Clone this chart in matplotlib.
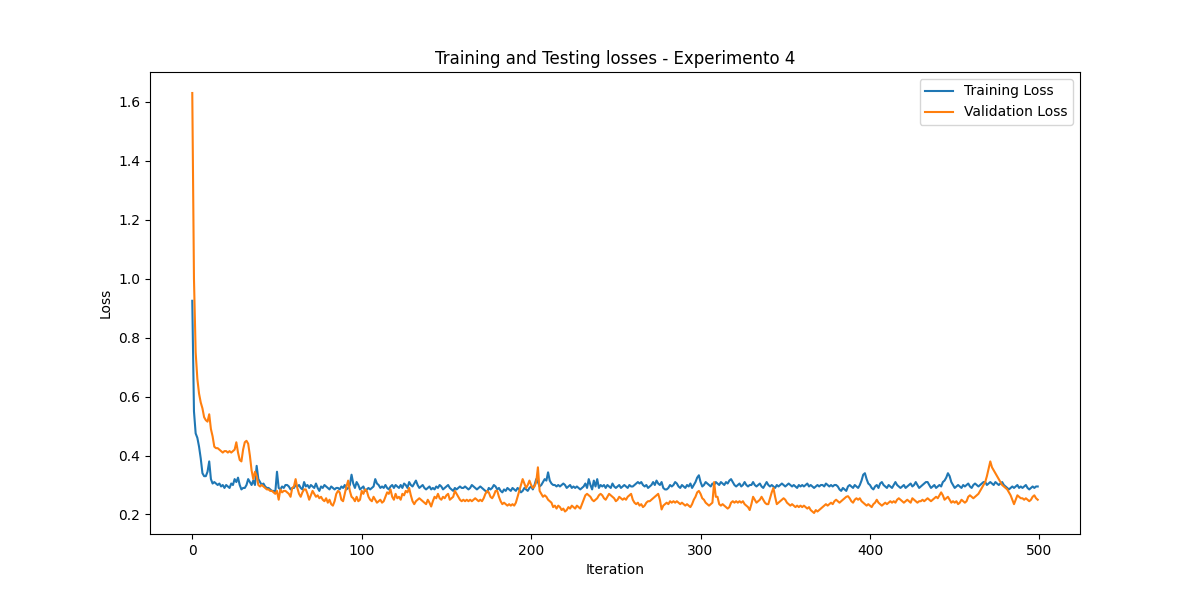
import matplotlib
matplotlib.use('Agg')
import matplotlib.pyplot as plt

# Valori letti a occhio dal grafico di riferimento (500 iterazioni)
training_loss = [
    0.925, 0.55, 0.475, 0.46, 0.43, 0.39, 0.34, 0.33, 0.33, 0.345,
    0.38, 0.32, 0.305, 0.31, 0.305, 0.30, 0.305, 0.295, 0.30, 0.29,
    0.30, 0.295, 0.29, 0.305, 0.30, 0.32, 0.31, 0.325, 0.30, 0.285,
    0.29, 0.29, 0.30, 0.32, 0.31, 0.30, 0.315, 0.30, 0.365, 0.32,
    0.31, 0.30, 0.305, 0.295, 0.29, 0.29, 0.285, 0.28, 0.28, 0.275,
    0.345, 0.29, 0.285, 0.295, 0.29, 0.30, 0.30, 0.295, 0.285, 0.29,
    0.29, 0.30, 0.295, 0.30, 0.29, 0.285, 0.31, 0.295, 0.30, 0.29,
    0.30, 0.295, 0.29, 0.305, 0.29, 0.28, 0.295, 0.29, 0.30, 0.295,
    0.29, 0.285, 0.295, 0.29, 0.285, 0.29, 0.29, 0.285, 0.295, 0.29,
    0.30, 0.285, 0.29, 0.30, 0.335, 0.305, 0.29, 0.31, 0.30, 0.285,
    0.29, 0.295, 0.28, 0.285, 0.29, 0.285, 0.29, 0.295, 0.32, 0.305,
    0.30, 0.29, 0.295, 0.29, 0.30, 0.29, 0.285, 0.295, 0.30, 0.29,
    0.30, 0.295, 0.29, 0.30, 0.29, 0.305, 0.30, 0.29, 0.31, 0.30,
    0.295, 0.305, 0.315, 0.30, 0.29, 0.295, 0.30, 0.29, 0.285, 0.29,
    0.295, 0.285, 0.29, 0.285, 0.295, 0.29, 0.30, 0.295, 0.285, 0.29,
    0.295, 0.30, 0.29, 0.285, 0.28, 0.29, 0.285, 0.29, 0.295, 0.29,
    0.29, 0.295, 0.29, 0.285, 0.29, 0.30, 0.295, 0.29, 0.285, 0.29,
    0.295, 0.29, 0.285, 0.28, 0.275, 0.29, 0.285, 0.29, 0.30, 0.295,
    0.285, 0.29, 0.28, 0.275, 0.285, 0.28, 0.29, 0.285, 0.28, 0.29,
    0.285, 0.28, 0.29, 0.285, 0.275, 0.28, 0.29, 0.285, 0.28, 0.29,
    0.295, 0.285, 0.30, 0.32, 0.31, 0.295, 0.30, 0.31, 0.32, 0.315,
    0.343, 0.315, 0.305, 0.30, 0.30, 0.295, 0.30, 0.295, 0.30, 0.305,
    0.30, 0.29, 0.295, 0.30, 0.29, 0.295, 0.29, 0.295, 0.29, 0.285,
    0.29, 0.295, 0.305, 0.29, 0.32, 0.30, 0.285, 0.315, 0.295, 0.32,
    0.29, 0.30, 0.295, 0.30, 0.29, 0.30, 0.295, 0.29, 0.305, 0.295,
    0.29, 0.295, 0.30, 0.29, 0.295, 0.30, 0.295, 0.29, 0.30, 0.295,
    0.295, 0.30, 0.305, 0.31, 0.305, 0.31, 0.30, 0.295, 0.30, 0.29,
    0.295, 0.30, 0.31, 0.30, 0.315, 0.305, 0.30, 0.31, 0.29, 0.285,
    0.285, 0.29, 0.30, 0.295, 0.30, 0.31, 0.305, 0.295, 0.29, 0.30,
    0.295, 0.29, 0.30, 0.295, 0.305, 0.29, 0.30, 0.31, 0.325, 0.333,
    0.31, 0.295, 0.30, 0.31, 0.305, 0.30, 0.295, 0.305, 0.30, 0.31,
    0.305, 0.30, 0.31, 0.305, 0.30, 0.31, 0.305, 0.315, 0.32, 0.31,
    0.30, 0.295, 0.30, 0.305, 0.295, 0.30, 0.31, 0.30, 0.295, 0.30,
    0.30, 0.31, 0.30, 0.295, 0.30, 0.305, 0.295, 0.29, 0.30, 0.31,
    0.30, 0.295, 0.30, 0.295, 0.29, 0.30, 0.295, 0.30, 0.305, 0.30,
    0.295, 0.30, 0.305, 0.30, 0.295, 0.30, 0.295, 0.29, 0.30, 0.295,
    0.30, 0.295, 0.30, 0.305, 0.295, 0.30, 0.295, 0.29, 0.295, 0.30,
    0.295, 0.30, 0.30, 0.295, 0.305, 0.30, 0.295, 0.30, 0.295, 0.30,
    0.30, 0.295, 0.285, 0.28, 0.29, 0.285, 0.28, 0.295, 0.30, 0.295,
    0.29, 0.30, 0.295, 0.29, 0.30, 0.315, 0.335, 0.34, 0.32, 0.305,
    0.30, 0.29, 0.285, 0.295, 0.30, 0.29, 0.305, 0.31, 0.30, 0.295,
    0.29, 0.30, 0.295, 0.29, 0.30, 0.31, 0.30, 0.295, 0.29, 0.295,
    0.30, 0.29, 0.295, 0.30, 0.305, 0.295, 0.30, 0.31, 0.30, 0.29,
    0.295, 0.30, 0.305, 0.31, 0.31, 0.30, 0.29, 0.295, 0.30, 0.29,
    0.295, 0.30, 0.295, 0.31, 0.315, 0.325, 0.34, 0.33, 0.31, 0.30,
    0.29, 0.295, 0.30, 0.295, 0.29, 0.30, 0.295, 0.30, 0.305, 0.295,
    0.29, 0.30, 0.305, 0.30, 0.295, 0.30, 0.305, 0.31, 0.31, 0.30,
    0.305, 0.31, 0.305, 0.30, 0.31, 0.305, 0.30, 0.305, 0.31, 0.30,
    0.295, 0.29, 0.285, 0.29, 0.295, 0.29, 0.295, 0.30, 0.29, 0.295,
    0.29, 0.295, 0.30, 0.29, 0.285, 0.29, 0.295, 0.29, 0.295, 0.295,
]

validation_loss = [
    1.63, 1.0, 0.75, 0.66, 0.61, 0.58, 0.56, 0.53, 0.52, 0.515,
    0.54, 0.49, 0.465, 0.43, 0.425, 0.425, 0.42, 0.415, 0.41, 0.415,
    0.415, 0.41, 0.415, 0.41, 0.415, 0.42, 0.445, 0.41, 0.385, 0.38,
    0.42, 0.445, 0.45, 0.44, 0.40, 0.35, 0.32, 0.345, 0.33, 0.30,
    0.295, 0.30, 0.295, 0.29, 0.285, 0.285, 0.28, 0.28, 0.275, 0.27,
    0.28, 0.25, 0.285, 0.275, 0.28, 0.28, 0.275, 0.27, 0.26, 0.29,
    0.295, 0.32, 0.29, 0.27, 0.26, 0.275, 0.285, 0.285, 0.27, 0.25,
    0.265, 0.28, 0.27, 0.26, 0.265, 0.255, 0.26, 0.25, 0.245, 0.255,
    0.24, 0.25, 0.235, 0.23, 0.245, 0.27, 0.28, 0.275, 0.25, 0.245,
    0.27, 0.295, 0.315, 0.28, 0.26, 0.255, 0.245, 0.26, 0.245, 0.25,
    0.28, 0.27, 0.285, 0.28, 0.26, 0.25, 0.245, 0.26, 0.25, 0.24,
    0.245, 0.25, 0.24, 0.245, 0.26, 0.275, 0.27, 0.285, 0.26, 0.25,
    0.27, 0.255, 0.26, 0.25, 0.27, 0.265, 0.28, 0.275, 0.29, 0.265,
    0.245, 0.235, 0.245, 0.25, 0.255, 0.25, 0.245, 0.24, 0.235, 0.25,
    0.24, 0.227, 0.245, 0.26, 0.255, 0.27, 0.255, 0.25, 0.26, 0.255,
    0.265, 0.27, 0.25, 0.255, 0.26, 0.28, 0.27, 0.26, 0.25, 0.245,
    0.25, 0.245, 0.25, 0.245, 0.25, 0.245, 0.25, 0.255, 0.25, 0.245,
    0.25, 0.245, 0.255, 0.27, 0.28, 0.275, 0.26, 0.255, 0.265, 0.28,
    0.28, 0.26, 0.245, 0.235, 0.24, 0.235, 0.23, 0.235, 0.23, 0.235,
    0.23, 0.24, 0.26, 0.28, 0.30, 0.32, 0.305, 0.29, 0.30, 0.315,
    0.30, 0.29, 0.295, 0.31, 0.36, 0.28, 0.27, 0.26, 0.265, 0.26,
    0.25, 0.245, 0.24, 0.225, 0.23, 0.22, 0.23, 0.225, 0.215, 0.22,
    0.21, 0.215, 0.225, 0.22, 0.23, 0.225, 0.22, 0.23, 0.225, 0.22,
    0.235, 0.25, 0.265, 0.27, 0.265, 0.26, 0.25, 0.245, 0.25, 0.255,
    0.265, 0.27, 0.265, 0.255, 0.25, 0.26, 0.27, 0.265, 0.26, 0.255,
    0.245, 0.25, 0.26, 0.255, 0.25, 0.255, 0.25, 0.26, 0.265, 0.27,
    0.25, 0.24, 0.235, 0.24, 0.23, 0.235, 0.225, 0.23, 0.24, 0.245,
    0.245, 0.25, 0.255, 0.26, 0.265, 0.27, 0.25, 0.217, 0.23, 0.235,
    0.24, 0.235, 0.245, 0.24, 0.245, 0.24, 0.245, 0.24, 0.235, 0.24,
    0.235, 0.23, 0.235, 0.23, 0.225, 0.235, 0.25, 0.26, 0.275, 0.28,
    0.27, 0.255, 0.25, 0.24, 0.235, 0.23, 0.235, 0.24, 0.31, 0.26,
    0.26, 0.235, 0.23, 0.235, 0.23, 0.225, 0.22, 0.225, 0.24, 0.245,
    0.24, 0.245, 0.24, 0.245, 0.24, 0.245, 0.235, 0.23, 0.225, 0.215,
    0.235, 0.26, 0.25, 0.24, 0.245, 0.25, 0.26, 0.25, 0.24, 0.235,
    0.235, 0.255, 0.275, 0.29, 0.26, 0.235, 0.24, 0.245, 0.25, 0.255,
    0.25, 0.24, 0.235, 0.23, 0.235, 0.23, 0.225, 0.23, 0.225, 0.23,
    0.225, 0.23, 0.225, 0.22, 0.225, 0.215, 0.21, 0.205, 0.215, 0.21,
    0.215, 0.22, 0.225, 0.23, 0.235, 0.23, 0.235, 0.24, 0.235, 0.245,
    0.25, 0.245, 0.24, 0.245, 0.25, 0.255, 0.26, 0.262, 0.255, 0.245,
    0.24, 0.25, 0.255, 0.25, 0.255, 0.245, 0.24, 0.235, 0.23, 0.235,
    0.23, 0.225, 0.235, 0.24, 0.25, 0.24, 0.235, 0.23, 0.235, 0.24,
    0.235, 0.24, 0.245, 0.24, 0.245, 0.24, 0.25, 0.255, 0.25, 0.245,
    0.24, 0.245, 0.25, 0.245, 0.24, 0.255, 0.25, 0.245, 0.24, 0.245,
    0.245, 0.25, 0.245, 0.25, 0.255, 0.25, 0.245, 0.25, 0.255, 0.26,
    0.255, 0.265, 0.275, 0.265, 0.25, 0.255, 0.26, 0.25, 0.24, 0.245,
    0.24, 0.245, 0.235, 0.24, 0.25, 0.245, 0.24, 0.245, 0.26, 0.265,
    0.26, 0.255, 0.26, 0.265, 0.27, 0.28, 0.29, 0.30, 0.31, 0.33,
    0.355, 0.38, 0.36, 0.35, 0.34, 0.33, 0.32, 0.31, 0.30, 0.295,
    0.29, 0.285, 0.275, 0.265, 0.25, 0.235, 0.25, 0.265, 0.26, 0.255,
    0.255, 0.25, 0.255, 0.25, 0.245, 0.25, 0.26, 0.265, 0.255, 0.25,
]

iterazioni = list(range(len(training_loss)))

fig, ax = plt.subplots(figsize=(12, 6), dpi=100)

ax.plot(iterazioni, training_loss, label='Training Loss')
ax.plot(iterazioni, validation_loss, label='Validation Loss')

ax.set_title('Training and Testing losses - Experimento 4')
ax.set_xlabel('Iteration')
ax.set_ylabel('Loss')
ax.legend(loc='upper right')

plt.savefig('out.png', dpi=100)
